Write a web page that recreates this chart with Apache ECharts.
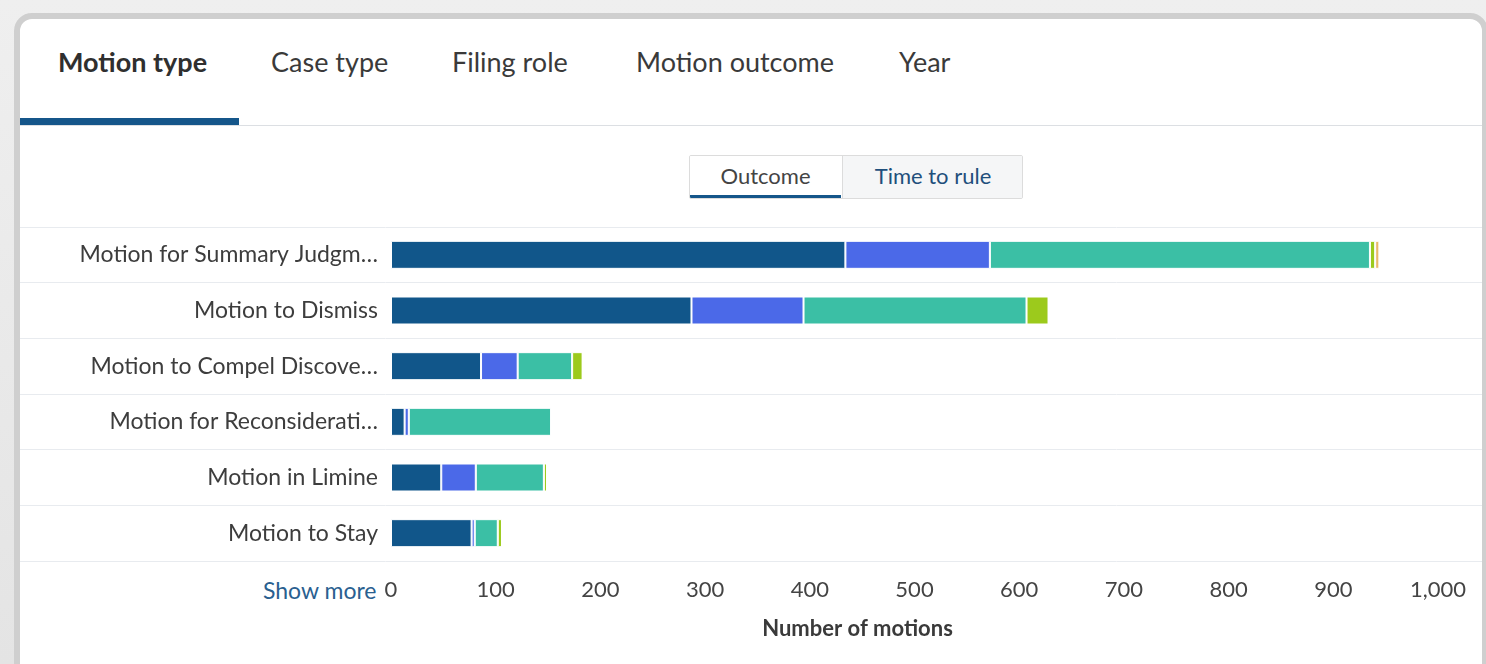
<!DOCTYPE html>
<html>
<head>
<meta charset="utf-8">
<script src="https://cdn.jsdelivr.net/npm/echarts@6/dist/echarts.min.js"></script>
<style>
  html, body { margin: 0; padding: 0; }
  body {
    width: 1486px; height: 664px; overflow: hidden; position: relative;
    background: linear-gradient(180deg, #efefef 0px, #e4e4e4 664px);
    font-family: Lato, "Noto Sans", sans-serif;
  }
  .card {
    position: absolute; left: 14px; top: 13px; width: 1462px; height: 680px;
    background: #fff; border: 6px solid #cfcfcf; border-radius: 18px;
  }
  .tab { position: absolute; top: 45px; font-size: 27px; color: #3a3a3a; white-space: nowrap; }
  .tab.active { font-weight: bold; color: #2f2f2f; }
  .tabline { position: absolute; left: 20px; top: 125px; width: 1462px; height: 1px; background: #dcdfe3; }
  .tabbar { position: absolute; left: 20px; top: 118px; width: 219px; height: 7px; background: #15568a; }
  .toggle {
    position: absolute; left: 689px; top: 155px; width: 332px; height: 42px;
    border: 1px solid #dcdcdc; border-radius: 2px; overflow: hidden;
  }
  .seg { position: absolute; top: 0; height: 42px; line-height: 40px; text-align: center; font-size: 22px; }
  .seg.on { left: 0; width: 151px; background: #fff; color: #444; border-bottom: 3px solid #15568a; box-sizing: border-box; height: 42px; }
  .seg.off { left: 152px; width: 180px; background: #f5f6f7; color: #1f4f7c; border-left: 1px solid #dcdcdc; }
  .more { position: absolute; left: 263px; top: 576px; font-size: 23px; color: #2a6090; }
  #chart { position: absolute; left: 0; top: 0; width: 1486px; height: 664px; }
</style>
</head>
<body>
<div class="card"></div>
<div class="tab active" style="left:58px">Motion type</div>
<div class="tab" style="left:271px">Case type</div>
<div class="tab" style="left:452px">Filing role</div>
<div class="tab" style="left:636px">Motion outcome</div>
<div class="tab" style="left:899px">Year</div>
<div class="tabline"></div>
<div class="tabbar"></div>
<div class="toggle">
  <div class="seg on">Outcome</div>
  <div class="seg off">Time to rule</div>
</div>
<div class="more">Show more</div>
<div id="chart"></div>

<script>
// 动议类型 (从上到下)
const motionTypes = [
  "Motion for Summary Judgment",
  "Motion to Dismiss",
  "Motion to Compel Discovery",
  "Motion for Reconsideration",
  "Motion in Limine",
  "Motion to Stay",
];
// 各结果的动议数量
const grantedData = [434, 287, 86, 13, 48, 77];
const partlyGrantedData = [138, 107, 35, 4, 33, 3];
const deniedData = [363, 213, 52, 136, 65, 22];
const mootData = [5, 21, 10, 0, 3, 4];
const otherData = [4, 0, 0, 0, 0, 0];
// x轴刻度
const xTicks = [0, 100, 200, 300, 400, 500, 600, 700, 800, 900, 1000];

const chart = echarts.init(document.getElementById("chart"));

const font = "Lato, 'Noto Sans', sans-serif";

function makeSeries(name, data, color) {
  return {
    name: name,
    type: "bar",
    stack: "total",
    barWidth: 28,
    xAxisIndex: 0,
    yAxisIndex: 0,
    data: data,
    itemStyle: { color: color, borderColor: "#ffffff", borderWidth: 1 },
    emphasis: { disabled: true },
  };
}

chart.setOption({
  animation: false,
  backgroundColor: "transparent",
  textStyle: { fontFamily: font },
  grid: [
    { left: 391, right: 48, top: 227, bottom: 103 },
    // 整行分隔线用的网格
    { left: 20, right: 4, top: 227, bottom: 103 },
  ],
  xAxis: [
    {
      gridIndex: 0,
      type: "value",
      min: xTicks[0],
      max: xTicks[xTicks.length - 1],
      interval: 100,
      axisLine: { show: false },
      axisTick: { show: false },
      splitLine: { show: false },
      axisLabel: {
        margin: 18,
        fontSize: 22,
        color: "#444",
        formatter: (v) => v.toLocaleString("en-US"),
      },
      name: "Number of motions",
      nameLocation: "middle",
      nameGap: 57,
      nameTextStyle: { fontSize: 22, fontWeight: "bold", color: "#3a3a3a", padding: [0, 114, 0, 0] },
    },
    { gridIndex: 1, type: "value", show: false, min: 0, max: 1 },
  ],
  yAxis: [
    {
      gridIndex: 0,
      type: "category",
      inverse: true,
      data: motionTypes,
      axisLine: { show: false },
      axisTick: { show: false },
      axisLabel: {
        margin: 13,
        fontSize: 23,
        color: "#3d3d3d",
        formatter: (s) => (s.length > 25 ? s.slice(0, 24) + "\u2026" : s),
      },
    },
    {
      gridIndex: 1,
      type: "category",
      inverse: true,
      data: motionTypes,
      axisLine: { show: false },
      axisTick: { show: false },
      axisLabel: { show: false },
      splitLine: { show: true, lineStyle: { color: "#e8ebef", width: 1 } },
    },
  ],
  series: [
    makeSeries("Granted", grantedData, "#11568a"),
    makeSeries("Partially granted", partlyGrantedData, "#4b69e8"),
    makeSeries("Denied", deniedData, "#3bbfa5"),
    makeSeries("Moot", mootData, "#9cca1c"),
    makeSeries("Other", otherData, "#e9b869"),
  ],
});
</script>
</body>
</html>
